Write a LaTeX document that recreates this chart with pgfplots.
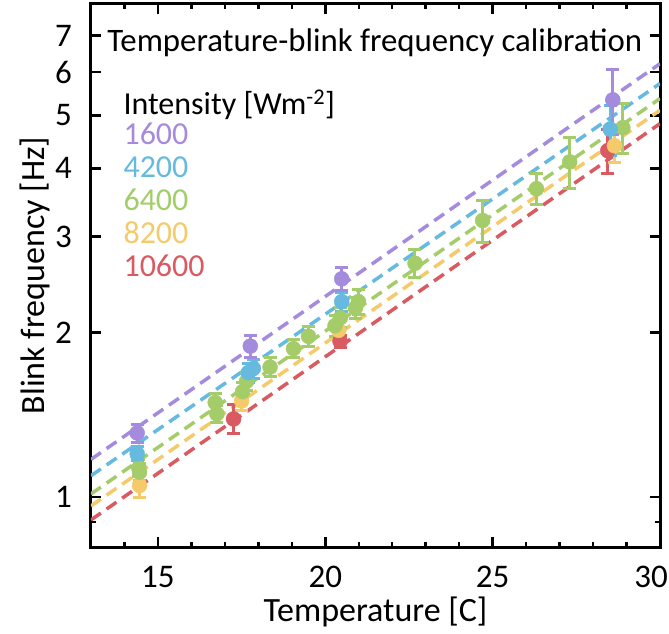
\documentclass[border=0pt]{standalone}
\usepackage{fontspec}
\setmainfont{Carlito}
\usepackage{pgfplots}
\usepackage{pgfplotstable}
\pgfplotsset{compat=1.18}
\definecolor{cpur}{HTML}{A58BDE}
\definecolor{cblu}{HTML}{66B9DF}
\definecolor{cgrn}{HTML}{A4CD6A}
\definecolor{cyel}{HTML}{F4CA6B}
\definecolor{cred}{HTML}{D95A60}
\pgfplotsset{
  pt/.style={only marks, mark=*, mark size=7.5pt, color=#1,
    mark options={draw=none, fill=#1},
    error bars/.cd, y dir=both, y explicit,
    error bar style={line width=3pt, #1},
    error mark options={rotate=90, line width=3pt, mark size=6.5pt, #1}},
  fit/.style={color=#1, line width=3.5pt, dash pattern=on 12pt off 7pt}
}
\pgfplotstableread{
T f e
14.38 1.31 0.05
17.76 1.89 0.09
20.49 2.51 0.12
28.59 5.34 0.72
}\purple
\pgfplotstableread{
T f e
14.38 1.20 0.035
17.70 1.69 0.07
17.85 1.72 0.07
20.49 2.28 0.09
28.51 4.72 0.50
}\blue
\pgfplotstableread{
T f e
14.43 1.13 0.04
14.45 1.11 0.04
16.71 1.49 0.06
16.76 1.42 0.05
17.53 1.56 0.06
17.65 1.63 0.06
18.35 1.73 0.07
19.05 1.87 0.07
19.50 1.97 0.08
20.29 2.06 0.09
20.45 2.13 0.09
20.90 2.22 0.10
20.99 2.28 0.12
22.68 2.68 0.16
24.70 3.21 0.28
26.31 3.67 0.24
27.30 4.11 0.44
28.89 4.75 0.50
}\green
\pgfplotstableread{
T f e
14.45 1.05 0.05
17.50 1.50 0.06
20.40 2.02 0.08
28.64 4.40 0.30
}\yellow
\pgfplotstableread{
T f e
17.26 1.39 0.085
20.44 1.93 0.05
28.44 4.31 0.40
}\red
\begin{document}
\begin{tikzpicture}
\begin{axis}[
  at={(0,0)}, anchor=south west,
  scale only axis, width=569pt, height=543pt,
  xmin=13, xmax=30, ymin=0.81, ymax=8, ymode=log,
  axis line style={line width=3pt},
  xtick={15,20,25,30}, xticklabels={15,20,25,{\makebox[0pt]{\hspace*{-18pt}30}}},
  minor xtick={13,14,...,30},
  ytick={1,2,3,4,5,6,7}, yticklabels={1,2,3,4,5,6,7}, minor ytick={0.9},
  tick align=inside, major tick length=10pt, minor tick length=5pt,
  every tick/.style={line width=2.5pt, black},
  /pgf/number format/assume math mode=true,
  ticklabel style={font=\fontsize{33}{36}\selectfont},
  xticklabel style={anchor=north, inner sep=0pt, yshift=-19pt},
  yticklabel style={anchor=east, inner sep=0pt, xshift=-19pt},
  xlabel={Temperature [C]}, ylabel={Blink frequency [Hz]},
  label style={font=\fontsize{34}{40}\selectfont},
  xlabel style={at={(axis description cs:0.5,0)}, anchor=base, yshift=-74pt},
  ylabel style={at={(axis description cs:-0.0826,0.5)}, anchor=base},
  clip=true,
]
\addplot[fit=cpur] coordinates {(13,1.172) (30,6.22)};
\addplot[fit=cblu] coordinates {(13,1.094) (30,5.72)};
\addplot[fit=cgrn] coordinates {(13,1.013) (30,5.37)};
\addplot[fit=cyel] coordinates {(13,0.963) (30,5.11)};
\addplot[fit=cred] coordinates {(13,0.908) (30,4.83)};
\addplot[pt=cred] table[x=T, y=f, y error=e] {\red};
\addplot[pt=cyel] table[x=T, y=f, y error=e] {\yellow};
\addplot[pt=cgrn] table[x=T, y=f, y error=e] {\green};
\addplot[pt=cblu] table[x=T, y=f, y error=e] {\blue};
\addplot[pt=cpur] table[x=T, y=f, y error=e] {\purple};
\node[anchor=base west, font=\fontsize{32.8}{36}\selectfont] at (axis description cs:0.0225,0.9116) {Temperature-blink frequency calibration};
\node[anchor=base west, font=\fontsize{32}{36}\selectfont] at (axis description cs:0.051,0.7974) {Intensity [Wm\textsuperscript{-2}]};
\node[anchor=base west, font=\fontsize{32}{36}\selectfont, text=cpur] at (axis description cs:0.051,0.7413) {1600};
\node[anchor=base west, font=\fontsize{32}{36}\selectfont, text=cblu] at (axis description cs:0.051,0.6805) {4200};
\node[anchor=base west, font=\fontsize{32}{36}\selectfont, text=cgrn] at (axis description cs:0.051,0.6197) {6400};
\node[anchor=base west, font=\fontsize{32}{36}\selectfont, text=cyel] at (axis description cs:0.051,0.5589) {8200};
\node[anchor=base west, font=\fontsize{32}{36}\selectfont, text=cred] at (axis description cs:0.051,0.4982) {10600};
\end{axis}
\pgfresetboundingbox
\useasboundingbox (-91pt,-87pt) rectangle (578pt,547pt);
\end{tikzpicture}
\end{document}
